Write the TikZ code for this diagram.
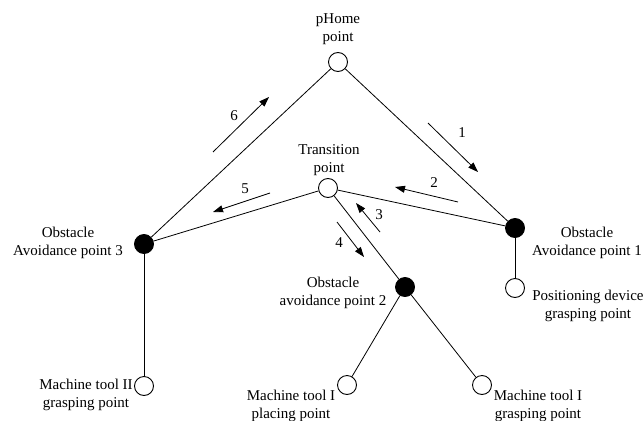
\documentclass[tikz,border=0pt]{standalone}
\usepackage{fontspec}
\setmainfont{Liberation Serif}
\usetikzlibrary{arrows.meta}
\begin{document}
\begin{tikzpicture}[x=1pt,y=-1pt,
  pt/.style={circle,draw,line width=0.9pt,minimum size=19pt,inner sep=0pt},
  wpt/.style={pt,fill=white},
  bpt/.style={pt,fill=black},
  lab/.style={align=center,font=\fontsize{15}{18.5}\selectfont,inner sep=0pt},
  edge/.style={line width=0.8pt},
  arr/.style={line width=0.8pt,-{Triangle[length=10pt,width=7pt]}},
  num/.style={font=\fontsize{15}{18.5}\selectfont,inner sep=0pt}]
\useasboundingbox (0,0) rectangle (644,420);
% points
\node[wpt] (home) at (338,62) {};
\node[wpt] (trans) at (328,188) {};
\node[bpt] (oa1) at (515,228) {};
\node[bpt] (oa3) at (144,244) {};
\node[bpt] (oa2) at (405,287) {};
\node[wpt] (pos) at (515,288) {};
\node[wpt] (mt2) at (144,386) {};
\node[wpt] (mtp) at (347,385) {};
\node[wpt] (mtg) at (482,385) {};
% edges
\draw[edge] (home) -- (oa1);
\draw[edge] (home) -- (oa3);
\draw[edge] (trans) -- (oa1);
\draw[edge] (trans) -- (oa3);
\draw[edge] (trans) -- (oa2);
\draw[edge] (oa2) -- (mtp);
\draw[edge] (oa2) -- (mtg);
\draw[edge] (oa3) -- (mt2);
\draw[edge] (oa1) -- (pos);
% arrows
\coordinate (a1s) at (428,123); \coordinate (a1e) at (478,172);
\coordinate (a2s) at (458,202); \coordinate (a2e) at (395,187);
\coordinate (a3s) at (380,232); \coordinate (a3e) at (356,203);
\coordinate (a4s) at (337,222); \coordinate (a4e) at (364,257);
\coordinate (a5s) at (270,193); \coordinate (a5e) at (213,212);
\coordinate (a6s) at (213,152); \coordinate (a6e) at (269,97);
\draw[arr] (a1s) -- (a1e);
\draw[arr] (a2s) -- (a2e);
\draw[arr] (a3s) -- (a3e);
\draw[arr] (a4s) -- (a4e);
\draw[arr] (a5s) -- (a5e);
\draw[arr] (a6s) -- (a6e);
\node[num] (n1) at (462,133) {1};
\node[num] (n2) at (434,183) {2};
\node[num] (n3) at (379,215) {3};
\node[num] (n4) at (339,243) {4};
\node[num] (n5) at (245,189) {5};
\node[num] (n6) at (234,116) {6};
% labels
\node[lab] (homet) at (338,29) {pHome\\point};
\node[lab] (transt) at (329,160) {Transition\\point};
\node[lab] (oa3t) at (68,243) {Obstacle\\Avoidance point 3};
\node[lab] (oa1t) at (587,243) {Obstacle\\Avoidance point 1};
\node[lab] (post) at (588,306) {Positioning device\\grasping point};
\node[lab] (oa2t) at (333,293) {Obstacle\\avoidance point 2};
\node[lab] (mt2t) at (86,395) {Machine tool II\\grasping point};
\node[lab] (mtpt) at (291,406) {Machine tool I\\placing point};
\node[lab] (mtgt) at (538,406) {Machine tool I\\grasping point};
\end{tikzpicture}
\end{document}
